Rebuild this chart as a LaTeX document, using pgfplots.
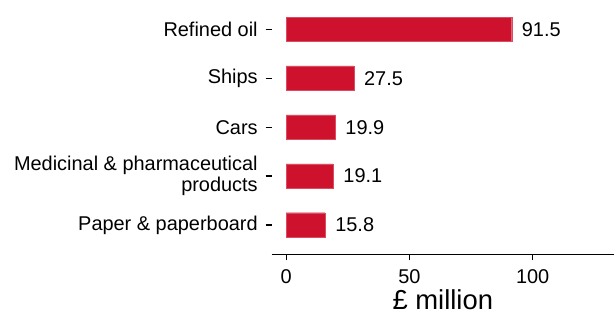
\documentclass[border=0pt]{standalone}
\usepackage{fontspec}
\setmainfont{Liberation Sans}
\usepackage{pgfplots}
\pgfplotsset{compat=1.18}
\definecolor{barred}{RGB}{206,17,45}
\begin{document}
\begin{tikzpicture}
\begin{axis}[
  at={(271.7bp,63.7bp)}, anchor=south west,
  scale only axis, width=342.3bp, height=254.3bp,
  xmin=-5.9, xmax=133, ymin=0.4, ymax=5.6,
  axis x line*=bottom, axis y line*=left,
  x axis line style={line width=1.5bp, -},
  y axis line style={draw=none},
  xtick={0,50,100},
  ytick={1,2,3,4,5},
  yticklabels={Paper \& paperboard, {Medicinal \& pharmaceutical\\products}, Cars, Ships, Refined oil},
  yticklabel style={align=right, xshift=-4.5bp},
  xticklabel style={yshift=-5.5bp},
  tick align=outside, major tick length=6bp,
  tick style={black, line width=1.3bp},
  /pgf/number format/assume math mode=true,
  tick label style={font=\fontsize{20}{21.5}\selectfont},
  xlabel={£ million},
  xlabel style={font=\fontsize{27.5}{30}\selectfont, yshift=-3bp, inner sep=0pt},
  xbar, bar width=24.5bp,
  point meta=x,
  nodes near coords={\pgfmathprintnumber[fixed,precision=1,fixed zerofill]{\pgfplotspointmeta}},
  nodes near coords style={anchor=west, inner sep=0pt, xshift=10bp, font=\fontsize{20}{21.5}\selectfont, black},
]
\addplot[fill=barred, draw=barred!75!white, line width=0.3bp] coordinates {
  (15.8,1) (19.1,2) (19.9,3) (27.5,4) (91.5,5)
};
\end{axis}
\pgfresetboundingbox
\path (0,0) rectangle (614bp,318bp);
\end{tikzpicture}
\end{document}
